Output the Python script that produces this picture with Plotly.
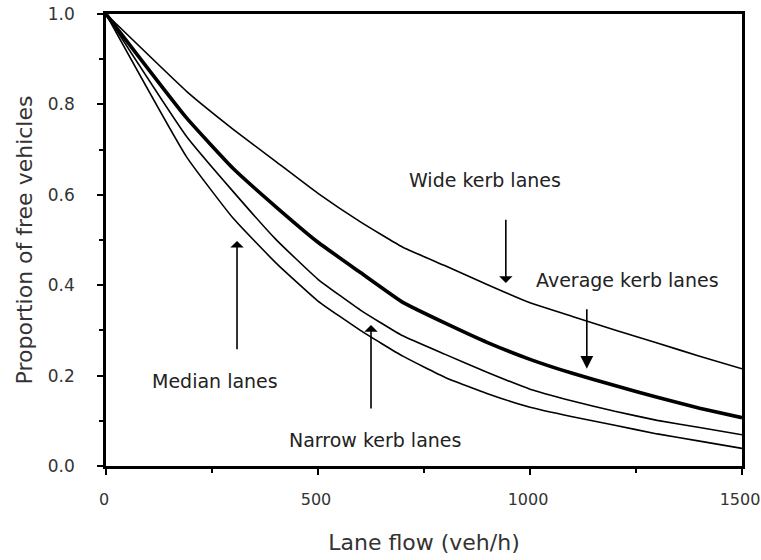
import plotly.graph_objects as go

# Lane flow (veh/h)
flow = [0, 190, 300, 400, 500, 600, 700, 800, 900, 1000, 1100, 1200, 1300, 1400, 1500]

# Proportion of free vehicles
wide_kerb = [1.0, 0.829, 0.745, 0.674, 0.603, 0.540, 0.484, 0.443, 0.401, 0.361, 0.331, 0.301, 0.272, 0.243, 0.215]
average_kerb = [1.0, 0.770, 0.658, 0.574, 0.495, 0.428, 0.362, 0.316, 0.273, 0.236, 0.205, 0.178, 0.152, 0.128, 0.107]
median = [1.0, 0.729, 0.607, 0.502, 0.413, 0.345, 0.288, 0.247, 0.207, 0.170, 0.144, 0.121, 0.101, 0.085, 0.069]
narrow_kerb = [1.0, 0.684, 0.548, 0.450, 0.365, 0.300, 0.243, 0.196, 0.160, 0.130, 0.109, 0.090, 0.071, 0.055, 0.039]

x_ticks = [0, 500, 1000, 1500]
x_tick_labels = ["0", "500", "1000", "1500"]
y_ticks = [0.0, 0.2, 0.4, 0.6, 0.8, 1.0]
y_tick_labels = ["0.0", "0.2", "0.4", "0.6", "0.8", "1.0"]

# label text, label position, arrow tail, arrow tip, arrowhead style
labels = [
    ("Wide kerb lanes", 894, 0.633, 943, 0.548, 943, 0.405, 1),
    ("Average kerb lanes", 1229, 0.411, 1134, 0.350, 1134, 0.215, 2),
    ("Median lanes", 257, 0.188, 309, 0.255, 309, 0.498, 1),
    ("Narrow kerb lanes", 634, 0.058, 625, 0.124, 625, 0.312, 1),
]

FONT = "DejaVu Sans, Verdana, sans-serif"

fig = go.Figure()
for name, ys, w in [
    ("Wide kerb lanes", wide_kerb, 1.6),
    ("Average kerb lanes", average_kerb, 3.6),
    ("Median lanes", median, 1.6),
    ("Narrow kerb lanes", narrow_kerb, 1.6),
]:
    fig.add_trace(go.Scatter(x=flow, y=ys, mode="lines", name=name,
                             line=dict(color="black", width=w, shape="spline", smoothing=0.4),
                             showlegend=False))

for text, tx, ty, ax0, ay0, ax1, ay1, head in labels:
    fig.add_annotation(x=tx, y=ty, xref="x", yref="y", text=text, showarrow=False,
                       font=dict(family=FONT, size=19, color="#222"))
    fig.add_annotation(x=ax1, y=ay1, ax=ax0, ay=ay0, xref="x", yref="y",
                       axref="x", ayref="y", text="", showarrow=True,
                       arrowhead=head, arrowsize=1.6 if head == 2 else 1.4,
                       arrowwidth=1.6, arrowcolor="black")

fig.update_layout(
    width=761, height=560,
    margin=dict(l=106, r=19, t=14, b=94, autoexpand=False),
    paper_bgcolor="white", plot_bgcolor="white",
    font=dict(family=FONT, color="#333"),
)
fig.update_xaxes(
    range=[0, 1500], tickmode="array", tickvals=x_ticks, ticktext=x_tick_labels,
    automargin=False, ticklabeloverflow="allow", ticklabelshift=-2,
    showgrid=False, zeroline=False, showline=True, linecolor="black", linewidth=2.5,
    mirror=True, ticks="outside", ticklen=6, tickwidth=1.5, tickcolor="black",
    minor=dict(ticks="outside", tickvals=[250, 750, 1250], ticklen=4, tickcolor="black"),
    tickfont=dict(size=16, color="#333"), ticklabelstandoff=11,
    title=dict(text="Lane flow (veh/h)", font=dict(size=22, color="#333"), standoff=27),
)
fig.update_yaxes(
    range=[0, 1.0], tickmode="array", tickvals=y_ticks, ticktext=y_tick_labels,
    automargin=False, ticklabeloverflow="allow",
    showgrid=False, zeroline=False, showline=True, linecolor="black", linewidth=2.5,
    mirror=True, ticks="outside", ticklen=6, tickwidth=1.5, tickcolor="black",
    minor=dict(ticks="outside", tickvals=[0.1, 0.3, 0.5, 0.7, 0.9], ticklen=4, tickcolor="black"),
    tickfont=dict(size=17, color="#333"), ticklabelstandoff=19,
    title=dict(text="Proportion of free vehicles", font=dict(size=22, color="#333"), standoff=10),
)

# remove the browser's default 8px page margin so the 761x560 figure fills the window
fig.write_html("out.html", config={"displayModeBar": False},
               post_script="document.body.style.margin='0';")
